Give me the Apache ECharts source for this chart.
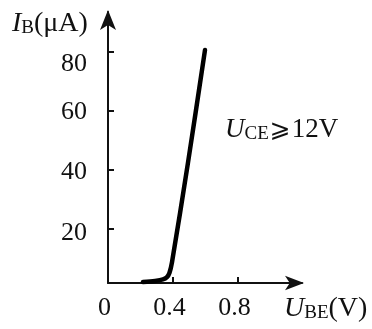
<!DOCTYPE html>
<html>
<head>
<meta charset="utf-8">
<script src="https://cdn.jsdelivr.net/npm/echarts@6/dist/echarts.min.js"></script>
<style>html,body{margin:0;padding:0;background:#fff}#c{width:372px;height:329px}</style>
</head>
<body>
<div id="c"></div>
<script>
// Data
var uBE = [0.215, 0.289, 0.338, 0.363, 0.378, 0.394, 0.492, 0.597];
var iB  = [2.0,   2.4,   2.9,   3.7,   5.1,   8.8,   42.4,  80.7];
var yTicks = [20, 40, 60, 80];
var xTicks = [0.4, 0.8];
var xTickLabels = [0, 0.4, 0.8];

var serif = '"Liberation Serif", "DejaVu Serif", serif';
var data = uBE.map(function (x, i) { return [x, iB[i]]; });
// label anchor values (reference draws labels slightly off their ticks)
var yLabelAt = [18.6, 39.3, 59.7, 75.9];

function richSet(big, small) {
  return {
    i: { fontFamily: serif, fontStyle: 'italic', fontWeight: 'normal', fontSize: big, color: '#111' },
    s: { fontFamily: serif, fontWeight: 'normal', fontSize: small, color: '#111', verticalAlign: 'bottom', padding: [9, 0, 0, 0] },
    n: { fontFamily: serif, fontWeight: 'normal', fontSize: big, color: '#111' },
    g: { fontFamily: '"DejaVu Serif", "DejaVu Sans", serif', fontWeight: 'normal', fontSize: big - 2, color: '#111', padding: [0, 1, 0, 1] }
  };
}

var chart = echarts.init(document.getElementById('c'));
chart.setOption({
  animation: false,
  backgroundColor: '#fff',
  grid: { left: 108, right: 70, top: 12, bottom: 46, containLabel: false },
  title: [
    { left: 7, top: 5, text: '{i|I}{s|B}{n|(μA)}', textStyle: { fontWeight: 'normal', rich: richSet(28, 19) } },
    { left: 279, top: 290, text: '{i|U}{s|BE}{n|(V)}', textStyle: { fontWeight: 'normal', rich: richSet(28, 19) } },
    { left: 220, top: 111, text: '{i|U}{s|CE}{g|⩾}{n|12V}', textStyle: { fontWeight: 'normal', rich: richSet(27, 19) } }
  ],
  xAxis: {
    type: 'value', min: 0, max: 1.194,
    splitLine: { show: false },
    axisLine: { show: true, onZero: false, symbol: ['none', 'arrow'], symbolSize: [11, 19], symbolOffset: [0, 2],
      lineStyle: { color: '#111', width: 2 } },
    axisTick: { show: true, inside: true, length: 6, customValues: xTicks, lineStyle: { color: '#111', width: 2 } },
    axisLabel: { customValues: xTickLabels, margin: 12, padding: [0, 7, 0, 0],
      fontFamily: serif, fontSize: 26, color: '#111',
      formatter: function (v) { return String(v); } }
  },
  yAxis: {
    type: 'value', min: 1.7, max: 93.6,
    splitLine: { show: false },
    axisLine: { show: true, onZero: false, symbol: ['none', 'arrow'], symbolSize: [12, 20], symbolOffset: [0, 2],
      lineStyle: { color: '#111', width: 2 } },
    axisTick: { show: true, inside: true, length: 6, customValues: yTicks, lineStyle: { color: '#111', width: 2 } },
    axisLabel: { customValues: yLabelAt, margin: 21,
      fontFamily: serif, fontSize: 26, color: '#111',
      formatter: function (v) {
        var best = yTicks[0];
        yTicks.forEach(function (t) { if (Math.abs(t - v) < Math.abs(best - v)) best = t; });
        return String(best);
      } }
  },
  series: [{
    type: 'line',
    data: data,
    showSymbol: false,
    smooth: 0.3,
    lineStyle: { color: '#000', width: 4.5, cap: 'round', join: 'round' }
  }]
});
</script>
</body>
</html>
